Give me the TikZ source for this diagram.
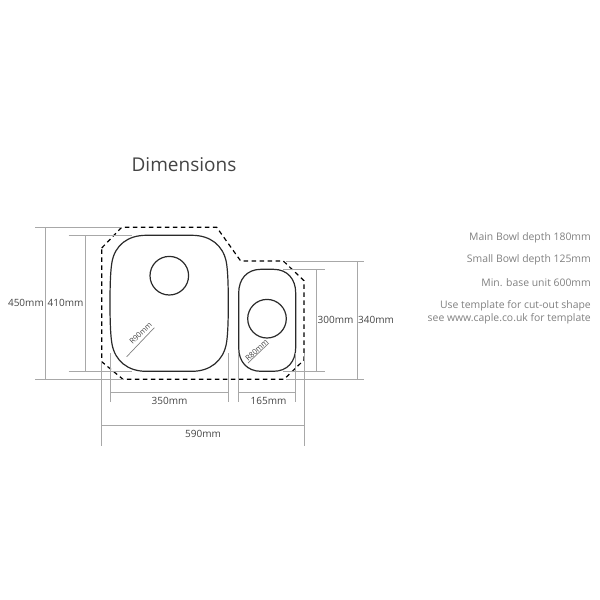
\documentclass[tikz,border=0pt]{standalone}
\usepackage{fontspec}
\setmainfont{Open Sans}[Scale=1]
\definecolor{dimgrey}{HTML}{A8A8A8}
\definecolor{dimtext}{HTML}{444444}
\definecolor{notetext}{HTML}{808080}
\definecolor{bowl}{HTML}{2A2A2A}
\tikzset{
  dimline/.style={draw=dimgrey,line width=0.75pt},
  bowlline/.style={draw=bowl,line width=1.2pt},
  cutout/.style={draw=black,line width=1.2pt,dash pattern=on 4.5pt off 3.5pt},
  dimlabel/.style={font=\fontsize{10}{12}\selectfont,text=dimtext,inner sep=0pt},
  smalllabel/.style={font=\fontsize{7.6}{9}\selectfont,text=dimtext,inner sep=0pt},
  note/.style={font=\fontsize{10.4}{12}\selectfont,text=notetext,inner sep=0pt,anchor=east,align=right},
}
\begin{document}
\begin{tikzpicture}[x=1pt,y=-1pt]
\useasboundingbox (0,0) rectangle (600,600);
\node[font=\fontsize{19}{24}\selectfont,text=dimtext,inner sep=0pt] (title) at (184,165) {Dimensions};
% cut-out
\draw[cutout] (101.7,248) -- (121.7,227.3) -- (216.7,227.3) -- (240.7,261) -- (283.3,261)
  -- (304,280.7) -- (304,360) -- (284,379.3) -- (123,379.3) -- (101.7,361.7) -- cycle;
% bowls
\draw[bowlline] (110,303) .. controls (110,285) and (110.5,270) .. (112,262)
  .. controls (115,245) and (128,235.3) .. (146,235.3)
  -- (192,235.3) .. controls (210,235.3) and (223,245) .. (226.3,262)
  .. controls (227.8,270) and (228.3,285) .. (228.3,303)
  .. controls (228.3,321) and (227.8,336) .. (226.3,344)
  .. controls (223,361) and (210,371.3) .. (192,371.3)
  -- (146,371.3) .. controls (128,371.3) and (115,361) .. (112,344)
  .. controls (110.5,336) and (110,321) .. (110,303) -- cycle;
\draw[bowlline] (238.7,320) -- (238.7,293)
  .. controls (238.7,279) and (247,269.3) .. (261,269.3)
  -- (273.4,269.3) .. controls (287.4,269.3) and (295.7,279) .. (295.7,293)
  -- (295.7,347.6) .. controls (295.7,361.6) and (287.4,371.3) .. (273.4,371.3)
  -- (261,371.3) .. controls (247,371.3) and (238.7,361.6) .. (238.7,347.6) -- cycle;
\node[circle,draw=bowl,line width=1.2pt,minimum size=38.6pt,inner sep=0pt] (mainwaste) at (169.3,275.7) {};
\node[circle,draw=bowl,line width=1.2pt,minimum size=38.6pt,inner sep=0pt] (smallwaste) at (267,318.7) {};
% 450
\draw[dimline] (35.3,227.3) -- (122,227.3) (35.3,379.3) -- (123,379.3) (45.3,227.3) -- (45.3,379.3);
\node[dimlabel,anchor=east] (d450) at (44,303) {450mm};
% 410
\draw[dimline] (68.7,235.3) -- (132,235.3) (68.7,371.3) -- (132,371.3) (85.3,235.3) -- (85.3,371.3);
\node[dimlabel] (d410) at (65.5,303) {410mm};
% 350
\draw[dimline] (110,353) -- (110,402) (228.3,353) -- (228.3,402) (110,392.3) -- (228.3,392.3);
\node[dimlabel] (d350) at (169.5,401) {350mm};
% 165
\draw[dimline] (238.7,353) -- (238.7,402) (295.7,353) -- (295.7,402) (238.7,392.3) -- (295.7,392.3);
\node[dimlabel] (d165) at (268.5,401) {165mm};
% 590
\draw[dimline] (101.7,361) -- (101.7,446) (304,353) -- (304,446) (101.7,425.3) -- (304,425.3);
\node[dimlabel] (d590) at (203,434) {590mm};
% 300
\draw[dimline] (283,269.3) -- (325,269.3) (283,371.3) -- (325,371.3) (316.3,269.3) -- (316.3,371.3);
\node[dimlabel] (d300) at (335.5,320) {300mm};
% 340
\draw[dimline] (286,261) -- (364,261) (286,379.3) -- (364,379.3) (357,261) -- (357,379.3);
\node[dimlabel] (d340) at (376,320) {340mm};
% radius
\draw[dimline,line width=0.7pt,draw=gray] (126.7,356.7) -- (154.3,327.7);
\node[smalllabel,rotate=44] (r90) at (140.7,333) {R90mm};
\draw[dimline,line width=0.7pt,draw=gray] (248,363) -- (269,343);
\node[smalllabel,rotate=42] (r80) at (256.7,350) {R80mm};
% notes
\node[note] (n1) at (591,237.5) {Main Bowl depth 180mm};
\node[note] (n2) at (591,260) {Small Bowl depth 125mm};
\node[note] (n3) at (591,282.5) {Min. base unit 600mm};
\node[note] (n4) at (591,305.5) {Use template for cut-out shape};
\node[note] (n5) at (591,318.5) {see www.caple.co.uk for template};
\end{tikzpicture}
\end{document}
